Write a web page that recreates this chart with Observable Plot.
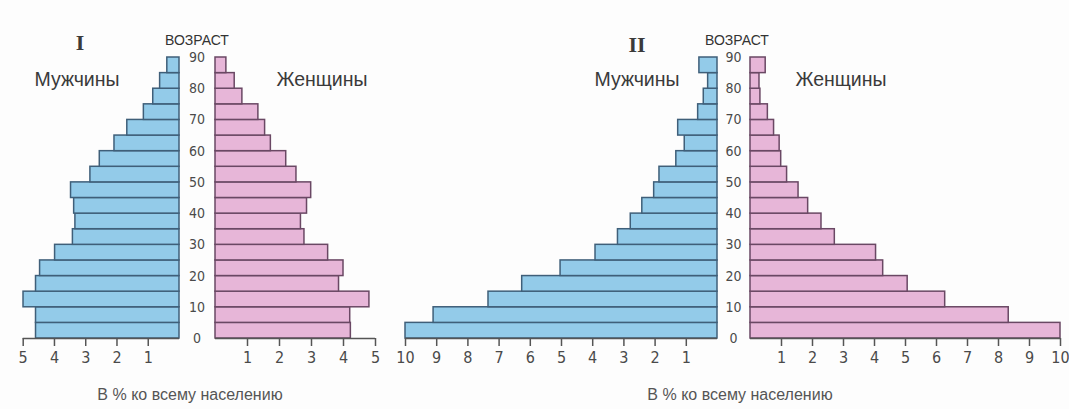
<!DOCTYPE html>
<html>
<head>
<meta charset="utf-8">
<script src="https://cdn.jsdelivr.net/npm/d3@7"></script>
<script src="https://cdn.jsdelivr.net/npm/@observablehq/plot@0.6"></script>
<style>
  html, body { margin: 0; padding: 0; background: #fdfdfd; }
  #chart { position: relative; width: 1069px; height: 409px; overflow: hidden; background: #fdfdfd; }
  #chart svg { position: absolute; left: 0; top: 0; }
</style>
</head>
<body>
<div id="chart"></div>
<script>
// ---- data ----
const ageGroups = [0, 5, 10, 15, 20, 25, 30, 35, 40, 45, 50, 55, 60, 65, 70, 75, 80, 85];
const ageTicks = [0, 10, 20, 30, 40, 50, 60, 70, 80, 90];
const pctTicksI = [1, 2, 3, 4, 5];
const pctTicksII = [1, 2, 3, 4, 5, 6, 7, 8, 9, 10];

const menI   = [4.59, 4.59, 4.99, 4.59, 4.46, 3.98, 3.41, 3.33, 3.37, 3.47, 2.85, 2.55, 2.08, 1.67, 1.14, 0.84, 0.62, 0.39];
const womenI = [4.23, 4.21, 4.81, 3.86, 4.00, 3.52, 2.78, 2.67, 2.86, 2.99, 2.53, 2.21, 1.73, 1.55, 1.34, 0.84, 0.60, 0.34];
const menII   = [10.0, 9.10, 7.34, 6.26, 5.03, 3.91, 3.19, 2.78, 2.41, 2.03, 1.86, 1.32, 1.05, 1.26, 0.62, 0.44, 0.30, 0.58];
const womenII = [10.0, 8.33, 6.28, 5.07, 4.28, 4.05, 2.72, 2.29, 1.86, 1.55, 1.18, 0.99, 0.94, 0.76, 0.56, 0.32, 0.29, 0.49];

const titles = ["I", "II"];
const ageLabel = "ВОЗРАСТ";
const menLabel = "Мужчины";
const womenLabel = "Женщины";
const caption = "В % ко всему населению";

// ---- layout ----
const W = 1069, H = 409;
const frameTop = 57, frameBottom = 338;
const MALE = { fill: "#93cbe9", stroke: "#3f5f79" };
const FEMALE = { fill: "#e7b6d8", stroke: "#6a4864" };
const numFont = "'Liberation Sans Narrow', 'DejaVu Sans Condensed', 'Liberation Sans', sans-serif";
const txtFont = "'Liberation Sans', Arial, sans-serif";

const rowsOf = vals => ageGroups.map((a, i) => ({ age: a, v: vals[i] }));

function half({ vals, domain, ticks, color, left, right, ageAxis }) {
  const rows = rowsOf(vals);
  const marks = [
    Plot.rect(rows, {
      x1: () => 0, x2: "v", y1: "age", y2: d => d.age + 5,
      fill: color.fill, stroke: color.stroke, strokeWidth: 1.5
    }),
    Plot.ruleY([0], { stroke: "#555", strokeWidth: 1.5 }),
    Plot.axisX({ ticks, tickFormat: "d", tickSize: 8, tickPadding: 5, label: null, fontSize: 16, stroke: "#555", strokeWidth: 1.5, fill: "#4a4a4a" })
  ];
  if (ageAxis) {
    marks.push(Plot.axisY({ ticks: ageTicks, tickFormat: "d", tickSize: 0, tickPadding: ageAxis, textAnchor: "middle", label: null, fontSize: 14, fill: "#4a4a4a" }));
  }
  return Plot.plot({
    width: W, height: H,
    marginTop: frameTop, marginBottom: H - frameBottom,
    marginLeft: left, marginRight: W - right,
    style: { background: "transparent", fontFamily: numFont, color: "#4a4a4a", overflow: "visible" },
    x: { domain },
    y: { domain: [0, 90], axis: ageAxis ? undefined : null },
    marks
  });
}

const chart = document.getElementById("chart");
chart.append(half({ vals: menI,   domain: [5, 0],  ticks: pctTicksI,  color: MALE,   left: 22.7, right: 179 }));
chart.append(half({ vals: womenI, domain: [0, 5],  ticks: pctTicksI,  color: FEMALE, left: 215,  right: 375, ageAxis: 18.5 }));
chart.append(half({ vals: menII,   domain: [10, 0], ticks: pctTicksII, color: MALE,   left: 405, right: 717 }));
chart.append(half({ vals: womenII, domain: [0, 10], ticks: pctTicksII, color: FEMALE, left: 750, right: 1060, ageAxis: 17 }));

// ---- headings and captions ----
const svg = d3.select(chart).append("svg")
  .attr("width", W).attr("height", H)
  .style("font-family", txtFont);

const labels = [
  { t: titles[0], x: 80,  y: 50,  size: 22, font: "'Liberation Serif', 'DejaVu Serif', serif", weight: "bold", fill: "#3a3a3a" },
  { t: titles[1], x: 637, y: 52,  size: 22, font: "'Liberation Serif', 'DejaVu Serif', serif", weight: "bold", fill: "#3a3a3a" },
  { t: ageLabel, x: 197, y: 45, size: 14, fill: "#333" },
  { t: ageLabel, x: 737, y: 45, size: 14, fill: "#333" },
  { t: menLabel, x: 77,  y: 86, size: 19.5, fill: "#3a3a3a" },
  { t: womenLabel, x: 322, y: 86, size: 19.5, fill: "#3a3a3a" },
  { t: menLabel, x: 637, y: 86, size: 19.5, fill: "#3a3a3a" },
  { t: womenLabel, x: 841, y: 86, size: 19.5, fill: "#3a3a3a" },
  { t: caption, x: 190, y: 400, size: 16, fill: "#555" },
  { t: caption, x: 740, y: 400, size: 16, fill: "#555" }
];
svg.selectAll("text").data(labels).join("text")
  .attr("x", d => d.x).attr("y", d => d.y)
  .attr("text-anchor", "middle")
  .attr("font-size", d => d.size)
  .attr("font-family", d => d.font || txtFont)
  .attr("font-weight", d => d.weight || "normal")
  .attr("fill", d => d.fill)
  .text(d => d.t);
</script>
</body>
</html>
